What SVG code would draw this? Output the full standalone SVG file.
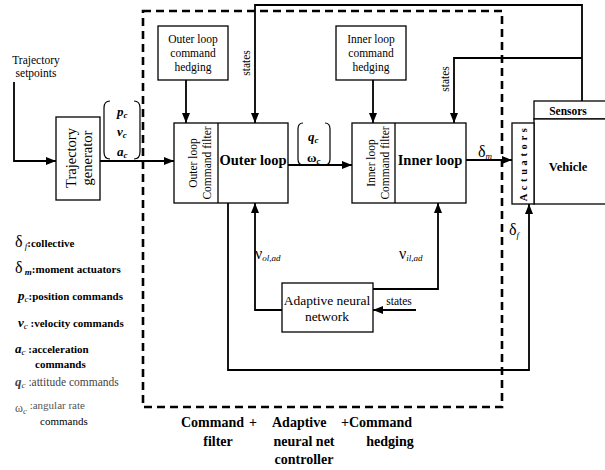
<svg xmlns="http://www.w3.org/2000/svg" width="605" height="470" viewBox="0 0 605 470" font-family="'Liberation Serif', 'DejaVu Serif', serif">
  <style>
    text { font-family: 'Liberation Serif', 'DejaVu Serif', serif; fill: #000; }
    .box { fill: #fff; stroke: #000; stroke-width: 1.3; }
    .wire { fill: none; stroke: #000; stroke-width: 1.8; }
    .dash { fill: none; stroke: #000; stroke-width: 2.6; stroke-dasharray: 8 5; }
    .lbl { font-size: 11.5px; }
    .big { font-size: 14.5px; font-weight: bold; }
    .leg { font-size: 11px; font-weight: bold; }
    .sym { font-size: 13px; font-weight: bold; font-style: italic; }
    .greek { font-size: 16px; }
    .sub { font-size: 9px; font-style: italic; }
    .foot { font-size: 14px; font-weight: bold; }
  </style>
  <defs>
    <marker id="arr" markerUnits="userSpaceOnUse" markerWidth="10" markerHeight="8" refX="10" refY="4" orient="auto">
      <path d="M0,0 L10,4 L0,8 Z" fill="#000"/>
    </marker>
  </defs>

  <!-- controller boundary -->
  <rect class="dash" x="143" y="11" width="359" height="396"/>

  <!-- connectors -->
  <g id="connectors">
    <path class="wire" d="M14,82 V161 H56" marker-end="url(#arr)"/>
    <path class="wire" d="M100,161 H174" marker-end="url(#arr)"/>
    <path class="wire" d="M186,80 V123" marker-end="url(#arr)"/>
    <path class="wire" d="M582,101 V5 H255 V123" marker-end="url(#arr)"/>
    <path class="wire" d="M582,58 H454 V123" marker-end="url(#arr)"/>
    <path class="wire" d="M288,165 H352" marker-end="url(#arr)"/>
    <path class="wire" d="M373,80 V123" marker-end="url(#arr)"/>
    <path class="wire" d="M466,160 H512" marker-end="url(#arr)"/>
    <path class="wire" d="M228,203 V370 H529 V204" marker-end="url(#arr)"/>
    <path class="wire" d="M282,310 H255 V203" marker-end="url(#arr)"/>
    <path class="wire" d="M373,289 H438 V203" marker-end="url(#arr)"/>
    <path class="wire" d="M416,310 H373" marker-end="url(#arr)"/>
    <!-- signal brackets -->
    <path d="M110,101 Q104,101 104,108 V152 Q104,159 110,159 M134,101 Q140,101 140,108 V152 Q140,159 134,159" fill="none" stroke="#000" stroke-width="1.2"/>
    <path d="M303,123 Q298,123 298,129 V159 Q298,165 303,165 M325,123 Q330,123 330,129 V159 Q330,165 325,165" fill="none" stroke="#000" stroke-width="1.2"/>
  </g>

  <!-- signal labels -->
  <g id="signals">
    <text class="lbl" x="36" y="64" text-anchor="middle">Trajectory</text>
    <text class="lbl" x="36" y="77" text-anchor="middle">setpoints</text>
    <text class="sym" x="117" y="116">p<tspan class="sub" font-weight="bold" dy="2">c</tspan></text>
    <text class="sym" x="117" y="136">v<tspan class="sub" font-weight="bold" dy="2">c</tspan></text>
    <text class="sym" x="117" y="156">a<tspan class="sub" font-weight="bold" dy="2">c</tspan></text>
    <text class="sym" x="308" y="141">q<tspan class="sub" font-weight="bold" dy="2">c</tspan></text>
    <text x="307" y="162" font-size="13" font-weight="bold">ω<tspan class="sub" font-weight="bold" dy="2">c</tspan></text>
    <text class="lbl" transform="translate(250,63) rotate(-90)" text-anchor="middle">states</text>
    <text class="lbl" transform="translate(449,79) rotate(-90)" text-anchor="middle">states</text>
    <text class="lbl" x="399" y="305" text-anchor="middle">states</text>
    <text class="greek" x="478" y="157">δ<tspan class="sub" dy="2">m</tspan></text>
    <text class="greek" x="509" y="235">δ<tspan class="sub" dy="3">f</tspan></text>
    <text class="greek" x="255" y="259">ν<tspan class="sub" dy="2">ol,ad</tspan></text>
    <text class="greek" x="399" y="259">ν<tspan class="sub" dy="2">il,ad</tspan></text>
  </g>

  <g id="trajectory-generator">
    <rect class="box" x="56" y="117" width="44" height="83"/>
    <text font-size="14.5" transform="translate(76,158) rotate(-90)" text-anchor="middle">Trajectory</text>
    <text font-size="14.5" transform="translate(92,158) rotate(-90)" text-anchor="middle">generator</text>
  </g>

  <g id="outer-hedging">
    <rect class="box" x="158" y="26" width="70" height="54"/>
    <text class="lbl" x="193" y="43" text-anchor="middle">Outer loop</text>
    <text class="lbl" x="193" y="57" text-anchor="middle">command</text>
    <text class="lbl" x="193" y="71" text-anchor="middle">hedging</text>
  </g>

  <g id="outer-loop">
    <rect class="box" x="174" y="123" width="114" height="80"/>
    <line x1="218" y1="123" x2="218" y2="203" stroke="#000" stroke-width="1.3"/>
    <text class="lbl" transform="translate(197,163) rotate(-90)" text-anchor="middle">Outer loop</text>
    <text class="lbl" transform="translate(211,163) rotate(-90)" text-anchor="middle">Command filter</text>
    <text class="big" x="253" y="165" text-anchor="middle">Outer loop</text>
  </g>

  <g id="inner-hedging">
    <rect class="box" x="336" y="26" width="70" height="54"/>
    <text class="lbl" x="371" y="43" text-anchor="middle">Inner loop</text>
    <text class="lbl" x="371" y="57" text-anchor="middle">command</text>
    <text class="lbl" x="371" y="71" text-anchor="middle">hedging</text>
  </g>

  <g id="inner-loop">
    <rect class="box" x="352" y="123" width="114" height="80"/>
    <line x1="395" y1="123" x2="395" y2="203" stroke="#000" stroke-width="1.3"/>
    <text class="lbl" transform="translate(375,163) rotate(-90)" text-anchor="middle">Inner loop</text>
    <text class="lbl" transform="translate(389,163) rotate(-90)" text-anchor="middle">Command filter</text>
    <text class="big" x="430" y="165" text-anchor="middle">Inner loop</text>
  </g>

  <g id="adaptive-network">
    <rect class="box" x="282" y="283" width="91" height="49"/>
    <text font-size="13.5" x="327" y="305" text-anchor="middle">Adaptive neural</text>
    <text font-size="13.5" x="327" y="321" text-anchor="middle">network</text>
  </g>

  <g id="vehicle">
    <rect class="box" x="534" y="101" width="74" height="18"/>
    <text x="568" y="115" font-size="11.5" font-weight="bold" text-anchor="middle">Sensors</text>
    <rect class="box" x="534" y="119" width="74" height="85"/>
    <text x="568" y="171" font-size="12.5" font-weight="bold" text-anchor="middle">Vehicle</text>
  </g>

  <g id="actuators">
    <rect class="box" x="512" y="123" width="22" height="81"/>
    <text transform="translate(527,163) rotate(-90)" font-size="10.5" font-weight="bold" letter-spacing="3.6" text-anchor="middle">Actuators</text>
  </g>

  <!-- legend -->
  <g id="legend">
    <text x="15" y="247"><tspan class="greek" font-size="17">δ</tspan><tspan class="sub" font-size="10" dy="2"> f</tspan><tspan class="leg" dy="-2">:collective</tspan></text>
    <text x="15" y="273"><tspan class="greek" font-size="17">δ</tspan><tspan class="sub" font-size="9" font-weight="bold" dy="2"> m</tspan><tspan class="leg" dy="-2">:moment actuators</tspan></text>
    <text x="18" y="300"><tspan class="sym" font-size="15">p</tspan><tspan class="sub" font-size="8" dy="2">c</tspan><tspan class="leg" dy="-2">:position commands</tspan></text>
    <text x="18" y="327"><tspan class="sym" font-size="15">v</tspan><tspan class="sub" font-size="8" dy="2">c</tspan><tspan class="leg" dy="-2"> :velocity commands</tspan></text>
    <text x="15" y="353"><tspan class="sym" font-size="15">a</tspan><tspan class="sub" font-size="8" dy="2">c</tspan><tspan class="leg" dy="-2"> :acceleration</tspan></text>
    <text class="leg" x="35" y="368">commands</text>
    <text x="15" y="386" fill="#444"><tspan class="sym" font-size="15" font-weight="normal" fill="#444">q</tspan><tspan class="sub" font-size="8" dy="2" fill="#444">c</tspan><tspan font-size="11.5" dy="-2" fill="#444"> :attitude commands</tspan></text>
    <text x="15" y="412" fill="#555"><tspan font-size="12" fill="#555">ω</tspan><tspan class="sub" font-size="8" dy="2" fill="#555">c</tspan><tspan font-size="11" dy="-5" fill="#555">    :angular rate</tspan></text>
    <text x="40" y="425" font-size="11" fill="#555">commands</text>
  </g>

  <!-- boundary caption -->
  <g id="caption">
    <text class="foot" x="181" y="427">Command</text>
    <text class="foot" x="249" y="427">+</text>
    <text class="foot" x="272" y="427">Adaptive</text>
    <text class="foot" x="341" y="427">+Command</text>
    <text class="foot" x="218" y="446" text-anchor="middle">filter</text>
    <text class="foot" x="304" y="446" text-anchor="middle">neural net</text>
    <text class="foot" x="390" y="446" text-anchor="middle">hedging</text>
    <text class="foot" x="304" y="464" text-anchor="middle">controller</text>
  </g>
</svg>
